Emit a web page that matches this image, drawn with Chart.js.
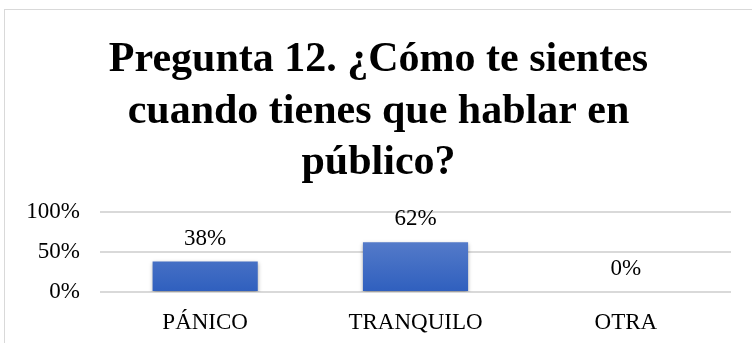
<!DOCTYPE html>
<html lang="es">
<head>
<meta charset="UTF-8">
<title>Pregunta 12</title>
<style type="text/css">
    html, body { margin: 0; padding: 0; background: #fff; overflow: hidden; }
    .frame {
        position: absolute; left: 4px; top: 9px;
        width: 800px; height: 400px;
        border: 1px solid #d9d9d9;
    }
    .chartBox {
        position: absolute; left: 0; top: 0;
        width: 752px; height: 343px;
    }
</style>
</head>
<body>
<div class="frame"></div>
<div class="chartBox">
    <canvas id="myChart"></canvas>
</div>

<script src="https://cdn.jsdelivr.net/npm/chart.js"></script>
<script>
// data
const categories = ['PÁNICO', 'TRANQUILO', 'OTRA'];
const values = [38, 62, 0];
const yTicks = [0, 50, 100];
const titleLines = ['Pregunta 12. ¿Cómo te sientes', 'cuando tienes que hablar en', 'público?'];

const serif = "'Liberation Serif', 'Times New Roman', serif";

// bar gradient, lighter at top
function barFill(ctx) {
    const area = ctx.chart.chartArea;
    if (!area) return '#4472c4';
    const g = ctx.chart.ctx.createLinearGradient(0, area.top, 0, area.bottom);
    g.addColorStop(0, '#6a8bd0');
    g.addColorStop(1, '#2f5fbe');
    return g;
}

// value labels above bars
const valueLabels = {
    id: 'valueLabels',
    afterDatasetsDraw(chart) {
        const c = chart.ctx;
        const meta = chart.getDatasetMeta(0);
        c.save();
        c.font = '23px ' + serif;
        c.fillStyle = '#000';
        c.textAlign = 'center';
        c.textBaseline = 'middle';
        meta.data.forEach((bar, i) => {
            c.fillText(values[i] + '%', bar.x, bar.y - 23);
        });
        c.restore();
    }
};

// soft shadow under bars
const barShadow = {
    id: 'barShadow',
    beforeDatasetsDraw(chart) {
        const c = chart.ctx;
        c.save();
        c.shadowColor = 'rgba(0,0,0,0.35)';
        c.shadowBlur = 4;
        c.shadowOffsetY = 2;
    },
    afterDatasetsDraw(chart) {
        chart.ctx.restore();
    }
};

const data = {
    labels: categories,
    datasets: [{
        data: values,
        backgroundColor: barFill,
        borderWidth: 0,
        barPercentage: 0.5,
        categoryPercentage: 1
    }]
};

const config = {
    type: 'bar',
    data,
    options: {
        responsive: true,
        maintainAspectRatio: false,
        animation: false,
        layout: { padding: { top: 10, left: 26, right: 21, bottom: 4 } },
        plugins: {
            legend: { display: false },
            tooltip: { enabled: false },
            title: {
                display: true,
                text: titleLines,
                color: '#000',
                font: { family: serif, size: 42, weight: 'bold', lineHeight: 1.22 },
                padding: { top: 25, bottom: 23 }
            }
        },
        scales: {
            x: {
                afterFit(axis) { axis.height = 47; },
                grid: { display: false },
                border: { display: false },
                ticks: { color: '#000', font: { family: serif, size: 23 }, padding: 9 }
            },
            y: {
                min: 0,
                max: 100,
                afterFit(axis) { axis.width = 74; },
                afterBuildTicks(axis) { axis.ticks = yTicks.map(v => ({ value: v })); },
                grid: { color: '#d9d9d9', lineWidth: 2, drawTicks: false },
                border: { display: false },
                ticks: {
                    color: '#000',
                    font: { family: serif, size: 23 },
                    padding: 20,
                    callback: v => v + '%'
                }
            }
        }
    },
    plugins: [barShadow, valueLabels]
};

const myChart = new Chart(document.getElementById('myChart'), config);
</script>
</body>
</html>
